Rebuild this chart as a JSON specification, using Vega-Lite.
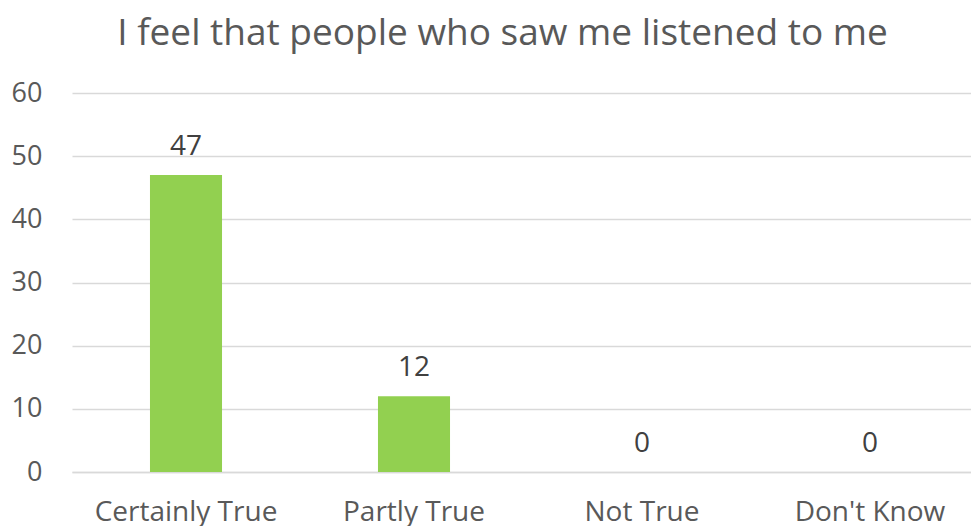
{
  "$schema": "https://vega.github.io/schema/vega-lite/v6.json",
  "width": 899,
  "height": 379,
  "autosize": {"type": "none"},
  "padding": {"left": 72, "top": 93, "right": 0, "bottom": 54},
  "background": "white",
  "title": {
    "text": "I feel that people who saw me listened to me",
    "font": "Open Sans",
    "fontSize": 37,
    "fontWeight": "normal",
    "color": "#595959",
    "anchor": "middle",
    "baseline": "alphabetic",
    "dx": -19,
    "offset": -3
  },
  "data": {
    "values": [
      {"category": "Certainly True", "count": 47},
      {"category": "Partly True", "count": 12},
      {"category": "Not True", "count": 0},
      {"category": "Don't Know", "count": 0}
    ]
  },
  "encoding": {
    "x": {
      "field": "category",
      "type": "nominal",
      "sort": null,
      "scale": {"paddingInner": 0.684, "paddingOuter": 0.342, "range": [0, 912]},
      "axis": {
        "title": null,
        "labelAngle": 0,
        "labelFont": "Open Sans",
        "labelFontSize": 28,
        "labelColor": "#595959",
        "labelPadding": 26,
        "labelLimit": 0,
        "ticks": false,
        "domain": true,
        "domainColor": "#d9d9d9",
        "domainWidth": 1.5
      }
    },
    "y": {
      "field": "count",
      "type": "quantitative",
      "scale": {"domain": [0, 60], "nice": false},
      "axis": {
        "title": null,
        "values": [0, 10, 20, 30, 40, 50, 60],
        "labelFont": "Open Sans",
        "labelFontSize": 27,
        "labelColor": "#595959",
        "labelPadding": 30,
        "ticks": false,
        "domain": false,
        "gridColor": "#d9d9d9",
        "gridWidth": 1.5
      }
    }
  },
  "layer": [
    {"mark": {"type": "bar", "color": "#92D050"}},
    {
      "mark": {
        "type": "text",
        "baseline": "alphabetic",
        "dy": -20,
        "font": "Open Sans",
        "fontSize": 28,
        "color": "#404040"
      },
      "encoding": {"text": {"field": "count", "type": "quantitative"}}
    }
  ],
  "config": {"view": {"stroke": null}}
}
